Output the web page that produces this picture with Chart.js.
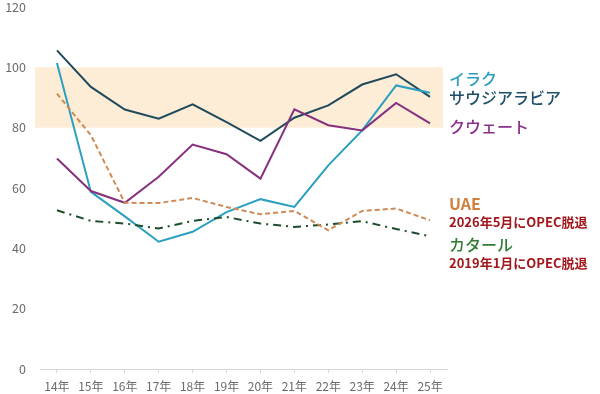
<!DOCTYPE html>
<html>
<head>
<meta charset="utf-8">
<script src="https://cdn.jsdelivr.net/npm/chart.js@4"></script>
<style>
  html, body { margin: 0; padding: 0; background: #fff; }
  #wrap { position: relative; width: 600px; height: 394px; }
  .lbl { position: absolute; font-family: "Noto Sans CJK JP", sans-serif; white-space: nowrap; line-height: 1; }
  .big { font-size: 16px; font-weight: 500; }
  .small { font-size: 13px; font-weight: bold; color: #a3171c; }
</style>
</head>
<body>
<div id="wrap">
  <canvas id="chart" width="600" height="394"></canvas>
  <div class="lbl big" style="left:449px;top:70px;color:#2a9fc0;">イラク</div>
  <div class="lbl big" style="left:449px;top:89px;color:#1f4e69;">サウジアラビア</div>
  <div class="lbl big" style="left:449px;top:118px;color:#8b2f8f;">クウェート</div>
  <div class="lbl big" style="left:449px;top:195px;color:#d0803e;font-weight:bold;">UAE</div>
  <div class="lbl small" style="left:449px;top:215px;">2026年5月にOPEC脱退</div>
  <div class="lbl big" style="left:449px;top:236px;color:#2e7d32;">カタール</div>
  <div class="lbl small" style="left:449px;top:256px;">2019年1月にOPEC脱退</div>
</div>
<script>
const years = ['14年', '15年', '16年', '17年', '18年', '19年', '20年', '21年', '22年', '23年', '24年', '25年'];
const saudi  = [105.6, 93.5, 86.0, 83.0, 87.7, 81.8, 75.6, 83.3, 87.4, 94.3, 97.7, 90.2];
const iraq   = [101.4, 58.7, 50.6, 42.2, 45.5, 52.0, 56.3, 53.7, 67.5, 79.1, 94.0, 91.6];
const kuwait = [69.8, 59.0, 55.1, 63.7, 74.4, 71.2, 63.1, 86.1, 80.8, 79.1, 88.2, 81.4];
const uae    = [91.3, 77.5, 55.1, 55.0, 56.7, 53.7, 51.3, 52.4, 46.0, 52.4, 53.2, 49.3];
const qatar  = [52.6, 49.1, 48.2, 46.6, 49.1, 50.4, 48.2, 47.1, 47.9, 49.0, 46.4, 44.0];
const bandLow = 80, bandHigh = 100;

const bandPlugin = {
    id: 'band',
    beforeDatasetsDraw(chart) {
        const ctx = chart.ctx;
        const y = chart.scales.y;
        const area = chart.chartArea;
        const top = y.getPixelForValue(bandHigh);
        const bottom = y.getPixelForValue(bandLow);
        ctx.save();
        ctx.fillStyle = '#fdecd6';
        ctx.fillRect(area.left - 5, top, area.right - area.left + 1, bottom - top);
        ctx.restore();
    }
};

function line(label, data, color, dash) {
    return {
        label: label,
        data: data,
        borderColor: color,
        backgroundColor: color,
        borderWidth: 2,
        borderDash: dash || [],
        pointRadius: 0,
        tension: 0,
        fill: false
    };
}

new Chart(document.getElementById('chart'), {
    type: 'line',
    data: {
        labels: years,
        datasets: [
            line('UAE', uae, '#cf8a55', [5, 3]),
            line('カタール', qatar, '#1d4d2c', [8, 5, 2, 5]),
            line('クウェート', kuwait, '#86307f'),
            line('イラク', iraq, '#2a9fc0'),
            line('サウジアラビア', saudi, '#1f4a5c')
        ]
    },
    options: {
        responsive: false,
        animation: false,
        layout: { padding: { top: 0, right: 153, left: 0, bottom: 0 } },
        plugins: {
            legend: { display: false },
            tooltip: { enabled: false }
        },
        scales: {
            x: {
                offset: true,
                grid: { display: true, drawOnChartArea: false, tickLength: 4, color: '#d9d9d9' },
                border: { color: '#d9d9d9' },
                ticks: {
                    color: '#6b6b6b',
                    font: { family: '"Noto Sans CJK JP", sans-serif', size: 12 },
                    padding: 6,
                    maxRotation: 0
                },
                afterFit: (scale) => { scale.height = 25; }
            },
            y: {
                min: 0,
                max: 120,
                grid: { display: false },
                border: { display: false },
                ticks: {
                    stepSize: 20,
                    color: '#6b6b6b',
                    font: { family: '"Noto Sans CJK JP", sans-serif', size: 12.5 },
                    padding: 6
                },
                afterFit: (scale) => {
                    scale.width = 40;
                    scale.paddingTop = 7;
                    scale.paddingBottom = 0;
                }
            }
        }
    },
    plugins: [bandPlugin]
});
</script>
</body>
</html>
